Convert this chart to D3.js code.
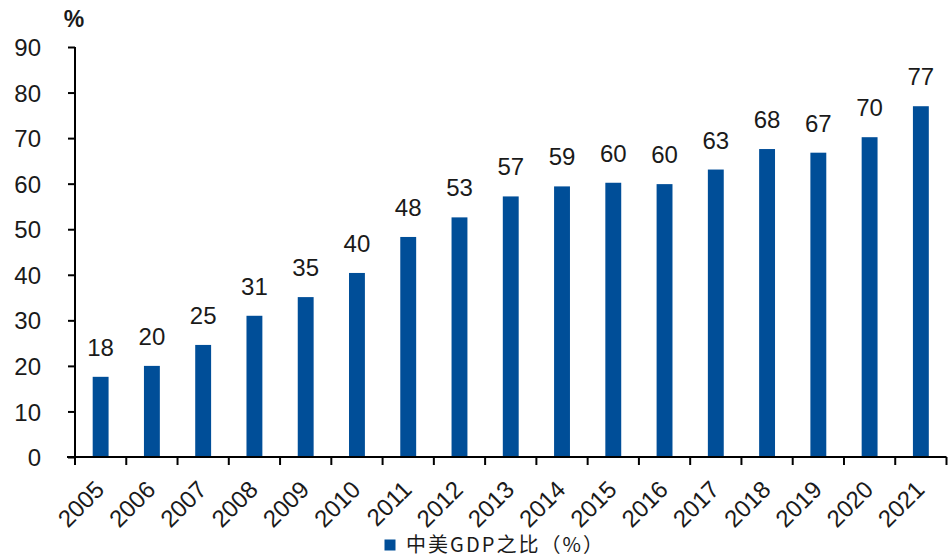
<!DOCTYPE html>
<html>
<head>
<meta charset="utf-8">
<script src="https://cdn.jsdelivr.net/npm/d3@7"></script>
<style>
html,body{margin:0;padding:0;background:#fff;}
svg{display:block;}
</style>
</head>
<body>
<svg id="chart" width="949" height="560"></svg>
<script>
const years = ["2005","2006","2007","2008","2009","2010","2011","2012","2013","2014","2015","2016","2017","2018","2019","2020","2021"];
const ratio = [17.6,20.0,24.6,31.0,35.1,40.4,48.3,52.6,57.2,59.4,60.2,59.9,63.1,67.6,66.8,70.2,77.0];
const yTicks = [0,10,20,30,40,50,60,70,80,90];
const seriesName = "中美GDP之比（%）";
const unitLabel = "%";

const svg = d3.select("#chart");
const x0 = 75, x1 = 946.5, y0 = 457, yTop = 47;

const x = d3.scaleBand().domain(years).range([x0, x1]).paddingInner(0.69).paddingOuter(0.345);
const y = d3.scaleLinear().domain([0, 90]).range([y0, yTop]);
const color = "#004e98";
const font = "'Liberation Sans', Arial, sans-serif";

// bars
svg.append("g").selectAll("rect").data(years).join("rect")
  .attr("x", d => x(d))
  .attr("width", x.bandwidth())
  .attr("y", (d,i) => y(ratio[i]))
  .attr("height", (d,i) => y0 - y(ratio[i]))
  .attr("fill", color);

// value labels
svg.append("g").selectAll("text").data(years).join("text")
  .attr("x", d => x(d) + x.bandwidth()/2)
  .attr("y", (d,i) => y(ratio[i]) - 21)
  .attr("text-anchor", "middle")
  .attr("font-family", font)
  .attr("font-size", 24)
  .attr("fill", "#1a1a1a")
  .text((d,i) => Math.round(ratio[i]));

// y axis
const yAxis = svg.append("g").attr("transform", `translate(${x0},0)`)
  .call(d3.axisLeft(y).tickValues(yTicks).tickSize(7).tickPadding(27).tickSizeOuter(0));
yAxis.select(".domain").attr("stroke", "#000").attr("stroke-width", 2).attr("d", `M0,${yTop}V${y0}`);
yAxis.selectAll(".tick line").attr("stroke", "#000").attr("stroke-width", 2);
yAxis.selectAll(".tick text").attr("font-family", font).attr("font-size", 24).attr("fill", "#1a1a1a").attr("dy", "0.36em");

// x axis: labels via axis, ticks at band edges
const xAxis = svg.append("g").attr("transform", `translate(0,${y0})`)
  .call(d3.axisBottom(x).tickSize(0).tickSizeOuter(0));
xAxis.select(".domain").remove();
xAxis.selectAll(".tick text")
  .attr("font-family", font).attr("font-size", 24).attr("fill", "#1a1a1a")
  .attr("text-anchor", "end")
  .attr("x", 0).attr("y", 0).attr("dy", 0)
  .attr("transform", "translate(5,34) rotate(-45)");

const edgeVals = years.map((d,i) => x0 + i * x.step()).concat([x1]);
const xg = svg.append("g");
xg.append("line").attr("x1", x0 - 8).attr("x2", x1).attr("y1", y0).attr("y2", y0)
  .attr("stroke", "#000").attr("stroke-width", 2);
xg.selectAll("line.t").data(edgeVals).join("line").attr("class","t")
  .attr("x1", d => d).attr("x2", d => d).attr("y1", y0).attr("y2", y0 + 8)
  .attr("stroke", "#000").attr("stroke-width", 2);

// unit label
svg.append("text").attr("x", 74).attr("y", 27).attr("text-anchor", "middle")
  .attr("font-family", font).attr("font-size", 23).attr("font-weight", "bold")
  .attr("fill", "#1a1a1a").text(unitLabel);

// legend
const lg = svg.append("g");
lg.append("rect").attr("x", 384.5).attr("y", 539.5).attr("width", 11).attr("height", 11).attr("fill", color);
lg.append("text").attr("x", 406).attr("y", 552)
  .attr("font-family", "'Noto Sans CJK SC', sans-serif").attr("font-size", 20)
  .attr("fill", "#1a1a1a")
  .attr("textLength", 197).attr("lengthAdjust", "spacing")
  .text(seriesName);
</script>
</body>
</html>
